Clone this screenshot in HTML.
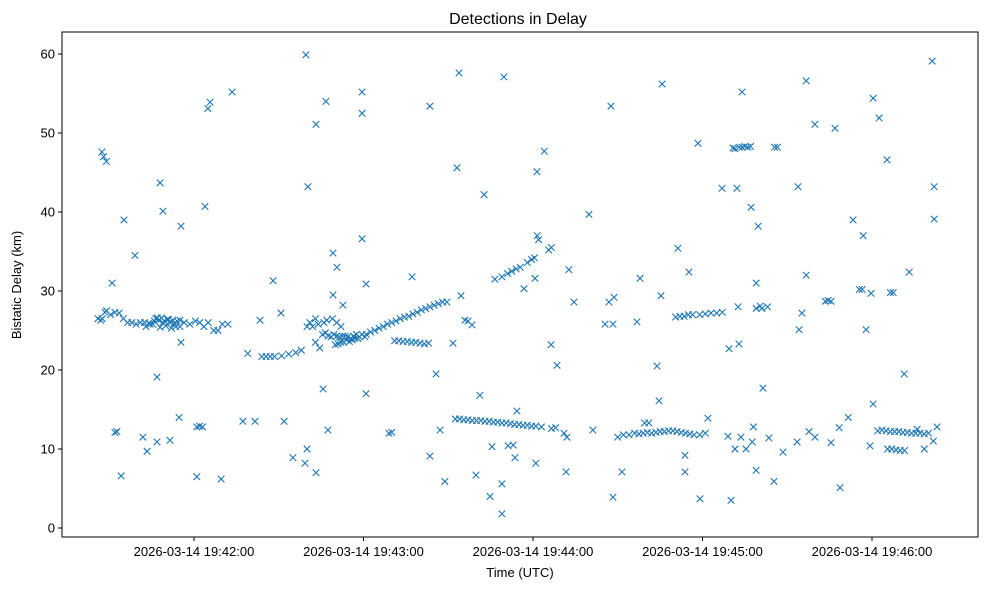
<!DOCTYPE html>
<html><head><meta charset="utf-8"><style>
body{margin:0;background:#fff;}
svg{display:block;font-family:"Liberation Sans","DejaVu Sans",sans-serif;}
</style></head><body>
<svg id="chart" width="989" height="590">
<rect x="0" y="0" width="989" height="590" fill="#fff"/>
<text x="518" y="24" font-size="16" text-anchor="middle" fill="#000">Detections in Delay</text>
<g id="marks"></g>
<rect x="62" y="32" width="916" height="505" fill="none" stroke="#000" stroke-width="1"/>
<g id="yaxis"></g>
<g id="xaxis"></g>
<text x="520" y="577" font-size="13" text-anchor="middle">Time (UTC)</text>
<text transform="translate(21,285) rotate(-90)" font-size="13" text-anchor="middle">Bistatic Delay (km)</text>
</svg>
<script>
// seconds after 19:41:00
const times = [
26,27.5,29,30.5,32,33.5,35,36.5,38,39.5,41,42.5,44,45.5,46.5,47.5,48.5,49.5,50.5,51.5,52.5,53.5,55,56.5,58.5,60.5,62,63.5,65,67,68.5,70,72,
27,28.5,43,44.5,46,47,48,49,50,51,52,53,54,55,
84,85.5,87,88.5,91,93.5,96,98,100,101,102,103,104,105.5,106.5,107.5,108.5,109.5,110.5,111.5,112.5,113.5,114.5,115.5,116.5,117.5,118.5,119.5,120.5,110,111,112,113,114,115,116,117,118,103,104.5,106,107,109,110.5,112,
121,122.5,124,125.5,127,128.5,130,131.5,133,134.5,136,137.5,139,140.5,142,143.5,145,146.5,148,149.5,
131,132.5,134,135.5,137,138.5,140,141.5,143,
152.5,154,155.5,157,158.5,160,161.5,163,164.5,166,167.5,169,170.5,172,173.5,175,176.5,178,179.5,181,183,186.5,188,191,192,
166.5,169,171,172.5,174,175.5,178,179.5,180.5,181.5,182,184,185.5,186.5,
210,212,214,216,217.5,219,220.5,222,223.5,225,226.5,228,229.5,231,232.5,234,235.5,237,239,241,219.5,221,
230.5,232,233.5,235,236.5,239,241,243,245,247,251.5,253,254,255,256,257,265.5,266.5,259,261,263,
302,303.5,305,306.5,308,309.5,311,312.5,314,315.5,317,318.5,320,305.5,307,308.5,310,311.5,316,323,
283.5,284.5,285.5,295.5,296.5,306.5,307.5,
32,32.7,61,62,63,129,130,
27.4,28,29,31,35.2,34.2,39.1,41.9,43.4,46.9,48,49,46.9,51.5,54.7,55.4,55.4,63.9,64.9,65.7,61,69.6,73.5,79,77.3,81.6,83.4,88,90.8,91.9,95,99.3,100,99.6,100.3,103.2,103.2,105.7,106.7,107.4,109.2,110.6,109.2,112.7,119.5,119.5,119.5,120.9,120.9,137.2,143.5,145.7,147.1,143.5,148.8,151.7,153.1,153.8,154.5,155.9,157,158.4,159.8,161.2,162.7,164.8,165.5,169.7,169,169,171.2,173,173.6,174.3,176.8,180.7,181,181.4,186.4,188.5,191.7,192.7,194.5,199.8,201.2,205.5,206.9,207.6,208.3,208.7,208.3,211.5,216.8,217.9,223.9,224.6,225.3,225.7,231.3,233.8,233.8,235.2,238.4,239.1,241.9,246.9,249,250.1,249.4,250.8,252.2,252.9,254,252.6,253.6,251.5,255.4,257.2,259,259.7,260.4,261.4,259,257.6,258,263.5,265.3,268.5,273.8,274.2,275.2,276.7,276.7,277.7,279.8,273.5,279.8,286.9,285.5,288.7,288.4,291.6,293.3,296.9,297.9,299.7,300.4,302.5,299.3,300.4,305.3,311.4,313.2,318.5,321.3,322,322,321.7
];
const delays = [
26.5,26.5,27.5,27,27.3,27.2,26.5,26,26,25.8,26,26,25.9,25.8,26.5,26.3,26.6,26.2,26.4,26,26.3,25.5,26.3,26,25.8,26.2,26,25.5,26,25,25,25.8,25.8,
26.3,27.3,25.5,25.8,26.2,26.6,25.4,26,25.6,26.4,25.3,25.9,26.2,25.5,
21.7,21.7,21.7,21.7,21.8,22,22.2,22.5,25.5,26,25.5,26.5,25.8,24.5,24.7,24.3,24.2,24.5,24.3,24.2,24.3,24.3,24.2,24,24.3,24.5,24.2,24.5,24.2,23.2,23.3,23.5,23.5,23.8,23.6,23.8,24,24,23.5,22.8,26,26.3,26.5,26,25.5,
24.5,24.8,25,25.3,25.5,25.8,26,26.2,26.5,26.7,26.8,27.1,27.3,27.6,27.8,28,28.2,28.4,28.6,28.6,
23.7,23.7,23.6,23.6,23.5,23.5,23.4,23.3,23.4,
13.8,13.8,13.7,13.7,13.6,13.6,13.6,13.5,13.5,13.4,13.4,13.3,13.3,13.2,13.1,13.1,13,13,12.9,12.9,12.8,12.6,12.7,12,11.5,
31.5,31.8,32.2,32.5,32.8,33,33.6,34,34.2,37,36.5,47.7,35.2,35.5,
11.5,11.8,11.8,12,11.9,12,12.1,12,12.1,12.2,12.2,12.3,12.3,12.2,12.1,12,11.9,11.8,11.8,12,13.3,13.3,
26.7,26.8,26.8,27,27,27,27.1,27.2,27.2,27.3,48,48.2,48.2,48.3,48.2,48.3,48.2,48.2,27.8,27.8,28,
12.3,12.4,12.3,12.2,12.2,12.2,12.1,12.1,12,12,12,11.9,12,10,10,9.9,9.8,9.8,12.5,12.8,
28.7,28.8,28.7,30.2,30.2,29.8,29.8,
12.1,12.2,12.8,12.9,12.8,12,12.1,
47.6,47,46.4,31,39,6.6,34.5,11.5,9.7,10.9,43.7,40.1,19.1,11.1,14,38.2,23.5,40.7,53.1,53.9,6.5,6.2,55.2,22.1,13.5,13.5,26.3,31.3,27.2,13.5,8.9,8.2,10,59.9,43.2,7,51.1,17.6,54,12.4,34.8,33,29.5,28.2,55.2,52.5,36.6,30.9,17,31.8,53.4,19.5,12.4,9.1,5.9,23.4,45.6,57.6,29.4,26.3,26.2,25.7,6.7,16.8,42.2,4,10.3,57.1,5.6,1.8,10.4,10.5,8.9,14.8,30.3,31.6,8.2,45.1,23.2,20.6,7.1,32.7,28.6,39.7,12.4,25.8,28.6,53.4,25.8,29.2,3.9,7.1,26.1,31.6,20.5,16.1,29.4,56.2,35.4,7.1,9.2,32.4,48.7,3.7,13.9,43,11.6,3.5,22.7,48.1,43,23.3,55.2,28,11.5,10,10,40.6,31,38.2,28.1,17.7,7.3,10.9,12.8,11.4,5.9,9.6,43.2,25.1,27.2,56.6,32,12.2,51.1,10.9,11.5,50.6,10.8,5.1,12.7,14,39,37,25.1,29.7,54.4,51.9,10.4,15.7,46.6,19.5,32.4,10,59.1,43.2,39.1,11
];
const yTicks = [0,10,20,30,40,50,60];
const xTickSecs = [60,120,180,240,300];
const xTickLabels = ["2026-03-14 19:42:00","2026-03-14 19:43:00","2026-03-14 19:44:00","2026-03-14 19:45:00","2026-03-14 19:46:00"];

const NS = "http://www.w3.org/2000/svg";
function xs(s){ return 194 + (s-60)*2.825; }
function ys(v){ return 528 - v*7.9; }

const marks = document.getElementById('marks');
for (let i=0;i<times.length;i++){
  const cx = xs(times[i]), cy = ys(delays[i]), r=3.3;
  const p = document.createElementNS(NS,'path');
  p.setAttribute('d',`M${cx-r},${cy-r}L${cx+r},${cy+r}M${cx-r},${cy+r}L${cx+r},${cy-r}`);
  p.setAttribute('stroke','#1f77b4');
  p.setAttribute('stroke-width','1.1');
  p.setAttribute('fill','none');
  
  
  marks.appendChild(p);
}
const ya = document.getElementById('yaxis');
yTicks.forEach(v=>{
  const y = ys(v);
  const l = document.createElementNS(NS,'line');
  l.setAttribute('x1',58); l.setAttribute('x2',62); l.setAttribute('y1',y); l.setAttribute('y2',y);
  l.setAttribute('stroke','#000');
  
  
  ya.appendChild(l);
  const t = document.createElementNS(NS,'text');
  t.setAttribute('x',55); t.setAttribute('y',y+4.5);
  t.setAttribute('font-size','13'); t.setAttribute('text-anchor','end');
  t.textContent = v;
  
  
  ya.appendChild(t);
});
const xa = document.getElementById('xaxis');
xTickSecs.forEach((s,i)=>{
  const x = xs(s);
  const l = document.createElementNS(NS,'line');
  l.setAttribute('x1',x); l.setAttribute('x2',x); l.setAttribute('y1',537); l.setAttribute('y2',541);
  l.setAttribute('stroke','#000');
  
  
  xa.appendChild(l);
  const t = document.createElementNS(NS,'text');
  t.setAttribute('x',x); t.setAttribute('y',556);
  t.setAttribute('font-size','13'); t.setAttribute('text-anchor','middle');
  t.textContent = xTickLabels[i];
  
  
  xa.appendChild(t);
});
</script>
</body></html>
